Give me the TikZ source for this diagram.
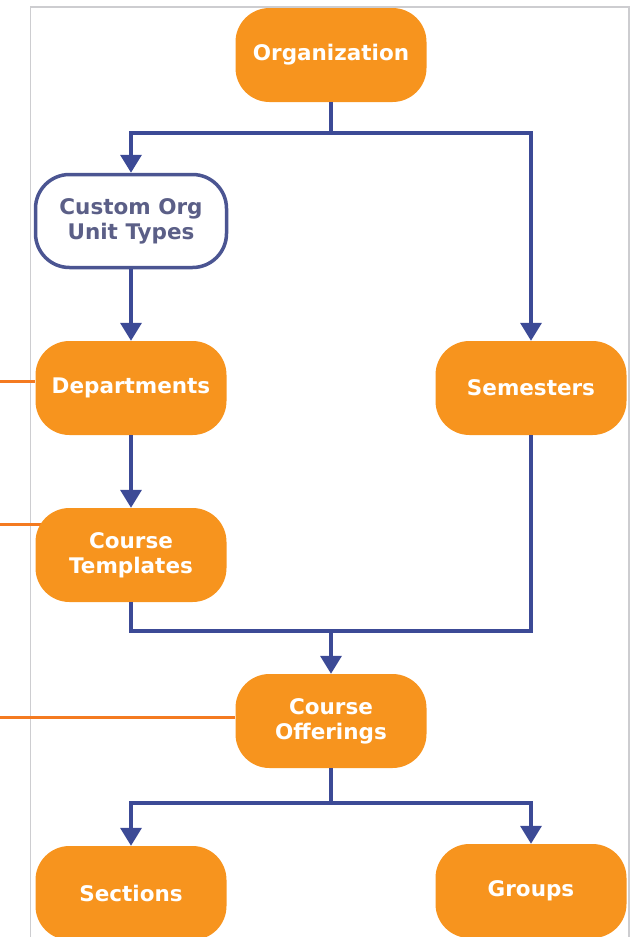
\documentclass[tikz,border=0pt]{standalone}
\usepackage{fontspec}
\setmainfont{DejaVu Sans}
\usetikzlibrary{shapes,arrows.meta,positioning,backgrounds}
\definecolor{boxorange}{RGB}{247,148,30}
\definecolor{tickorange}{RGB}{244,122,32}
\definecolor{linkblue}{RGB}{60,74,150}
\definecolor{unitblue}{RGB}{75,85,146}
\definecolor{unitgray}{RGB}{91,95,135}
\definecolor{framegray}{RGB}{205,205,208}

\begin{document}
\begin{tikzpicture}[x=1pt, y=-1pt,
    orgbox/.style={fill=boxorange, rounded corners=34pt, minimum width=191pt, minimum height=94pt, text=white, font=\fontsize{21.5}{25}\selectfont\bfseries, align=center, inner sep=0pt},
    unitbox/.style={orgbox, fill=white, draw=unitblue, line width=3.5pt, minimum width=191pt, minimum height=93pt, text=unitgray},
    link/.style={draw=linkblue, line width=3.5pt},
    arrowlink/.style={link, -{Triangle[length=18pt,width=21pt]}},
    tick/.style={draw=tickorange, line width=3pt}]
    \useasboundingbox (0,0) rectangle (631,937);

    \node[orgbox] (org) at (331,55) {Organization};
    \node[unitbox] (custom) at (131,221) {Custom Org\\Unit Types};
    \node[orgbox] (dept) at (131,388) {Departments};
    \node[orgbox] (sem) at (531,388) {Semesters};
    \node[orgbox] (tmpl) at (131,555) {Course\\Templates};
    \node[orgbox] (offer) at (331,721) {Course\\Offerings};
    \node[orgbox] (sect) at (131,893) {Sections};
    \node[orgbox] (grp) at (531,891) {Groups};

    \coordinate (fork1) at (331,133);
    \coordinate (join) at (331,631);
    \coordinate (fork2) at (331,803);

    % hierarchy links
    \draw[arrowlink] (org.south) -- (fork1) -| (custom.north);
    \draw[arrowlink] (fork1) -| (sem.north);
    \draw[arrowlink] (custom.south) -- (dept.north);
    \draw[arrowlink] (dept.south) -- (tmpl.north);
    \draw[link] (tmpl.south) |- (join) -| (sem.south);
    \draw[arrowlink] (join) -- (offer.north);
    \draw[arrowlink] (offer.south) -- (fork2) -| (sect.north);
    \draw[arrowlink] (fork2) -| (grp.north);

    \begin{scope}[on background layer]
        \draw[framegray, line width=1.5pt] (30.5,937) -- (30.5,7) -- (629,7) -- (629,937);
        \coordinate (mark1) at (0,381);
        \coordinate (mark2) at (0,524);
        \coordinate (mark3) at (0,717);
        \draw[tick] (mark1) -- (dept.west |- mark1);
        \draw[tick] (mark2) -- ([xshift=8pt]tmpl.west |- mark2);
        \draw[tick] (mark3) -- (offer.west |- mark3);
    \end{scope}
\end{tikzpicture}
\end{document}
